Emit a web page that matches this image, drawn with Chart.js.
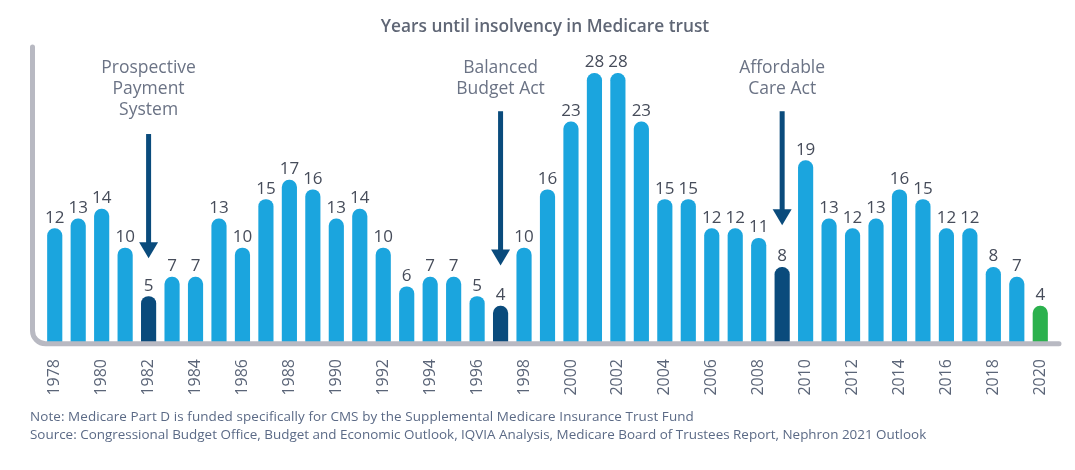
<!DOCTYPE html>
<html>
<head>
<meta charset="utf-8">
<script src="https://cdn.jsdelivr.net/npm/chart.js@4/dist/chart.umd.min.js"></script>
<style>
  html, body { margin: 0; background: #fff; }
  #wrap { position: relative; width: 1075px; height: 470px; overflow: hidden; font-family: "Open Sans", sans-serif; }
  #title { position: absolute; top: 15px; left: 0; width: 1090px; text-align: center; font-size: 17.3px; font-weight: 600; line-height: 22px; color: #5f6675; }
  #notes { position: absolute; left: 30px; top: 407px; font-size: 13.45px; line-height: 18px; color: #5b6a86; white-space: nowrap; }
  #notes .note { letter-spacing: 0.09px; }
  canvas { position: absolute; left: 0; top: 0; }
</style>
</head>
<body>
<div id="wrap">
  <canvas id="chart" width="1075" height="470"></canvas>
  <div id="title">Years until insolvency in Medicare trust</div>
  <div id="notes"><span class="note">Note: Medicare Part D is funded specifically for CMS by the Supplemental Medicare Insurance Trust Fund</span><br>Source: Congressional Budget Office, Budget and Economic Outlook, IQVIA Analysis, Medicare Board of Trustees Report, Nephron 2021 Outlook</div>
</div>
<script>
const years = ['1978','1979','1980','1981','1982','1983','1984','1985','1986','1987','1988','1989','1990','1991','1992','1993','1994','1995','1996','1997','1998','1999','2000','2001','2002','2003','2004','2005','2006','2007','2008','2009','2010','2011','2012','2013','2014','2015','2016','2017','2018','2019','2020'];
const yearsUntilInsolvency = [12,13,14,10,5,7,7,13,10,15,17,16,13,14,10,6,7,7,5,4,10,16,23,28,28,23,15,15,12,12,11,8,19,13,12,13,16,15,12,12,8,7,4];
const policyYears = ['1982','1997','2009'];
const policyLabels = [['Prospective','Payment','System'],['Balanced','Budget Act'],['Affordable','Care Act']];
const arrowTops = [21.75,24.1,24.1];
const arrowTips = [8.95,8.2,12.35];
const captionGaps = [24,22,22];
const latestYear = '2020';

const BLUE = '#1ba5de', DARK = '#0a4b7c', GREEN = '#2bb14d', AXIS = '#b8b9c2';
const barColors = years.map(y => y === latestYear ? GREEN : policyYears.includes(y) ? DARK : BLUE);

const annotations = {
  id: 'annotations',
  afterDatasetsDraw(chart) {
    const { ctx, chartArea, scales: { x, y } } = chart;

    // value labels over the bars
    ctx.save();
    ctx.font = '17px "Open Sans"';
    ctx.fillStyle = '#464c5a';
    ctx.textAlign = 'center';
    ctx.textBaseline = 'alphabetic';
    chart.getDatasetMeta(0).data.forEach((bar, i) => {
      ctx.fillText(yearsUntilInsolvency[i], bar.x, bar.y - 6);
    });

    // L shaped axis with rounded corner
    const ax = chartArea.left - 10.5, ay = chartArea.bottom - 1.3;
    ctx.strokeStyle = AXIS;
    ctx.lineWidth = 5;
    ctx.lineCap = 'round';
    ctx.beginPath();
    ctx.moveTo(ax, chartArea.top - 7);
    ctx.arcTo(ax, ay, ax + 14, ay, 13);
    ctx.lineTo(chartArea.right + 7, ay);
    ctx.stroke();

    // policy arrows and their captions
    ctx.font = '17.5px "Open Sans"';
    policyYears.forEach((year, i) => {
      const cx = x.getPixelForValue(years.indexOf(year));
      const top = y.getPixelForValue(arrowTops[i]);
      const tip = y.getPixelForValue(arrowTips[i]);
      ctx.fillStyle = DARK;
      ctx.fillRect(cx - 2.5, top, 5, tip - top - 10);
      ctx.beginPath();
      ctx.moveTo(cx - 9.5, tip - 16);
      ctx.lineTo(cx + 9.5, tip - 16);
      ctx.lineTo(cx, tip);
      ctx.closePath();
      ctx.fill();

      ctx.fillStyle = '#6b7385';
      ctx.textBaseline = 'middle';
      const lines = policyLabels[i];
      lines.forEach((line, j) => {
        ctx.fillText(line, cx, top - captionGaps[i] - (lines.length - 1 - j) * 21);
      });
    });
    ctx.restore();
  }
};

new Chart(document.getElementById('chart'), {
  type: 'bar',
  data: {
    labels: years,
    datasets: [{
      data: yearsUntilInsolvency,
      backgroundColor: barColors,
      barThickness: 14.5,
      borderSkipped: 'bottom',
      borderRadius: { topLeft: 7.25, topRight: 7.25, bottomLeft: 0, bottomRight: 0 }
    }]
  },
  options: {
    responsive: false,
    animation: false,
    layout: { padding: { left: 43, right: 23, top: 54, bottom: 0 } },
    plugins: { legend: { display: false }, tooltip: { enabled: false } },
    scales: {
      x: {
        afterFit: scale => { scale.height = 125; },
        grid: { display: false },
        border: { display: false },
        ticks: {
          autoSkip: false,
          minRotation: 90,
          maxRotation: 90,
          padding: 6,
          color: '#5b6578',
          font: { family: '"Open Sans"', size: 16 },
          callback: (value, i) => i % 2 === 0 ? years[i] : ''
        }
      },
      y: { display: false, min: 0, max: 30 }
    }
  },
  plugins: [annotations]
});
</script>
</body>
</html>
